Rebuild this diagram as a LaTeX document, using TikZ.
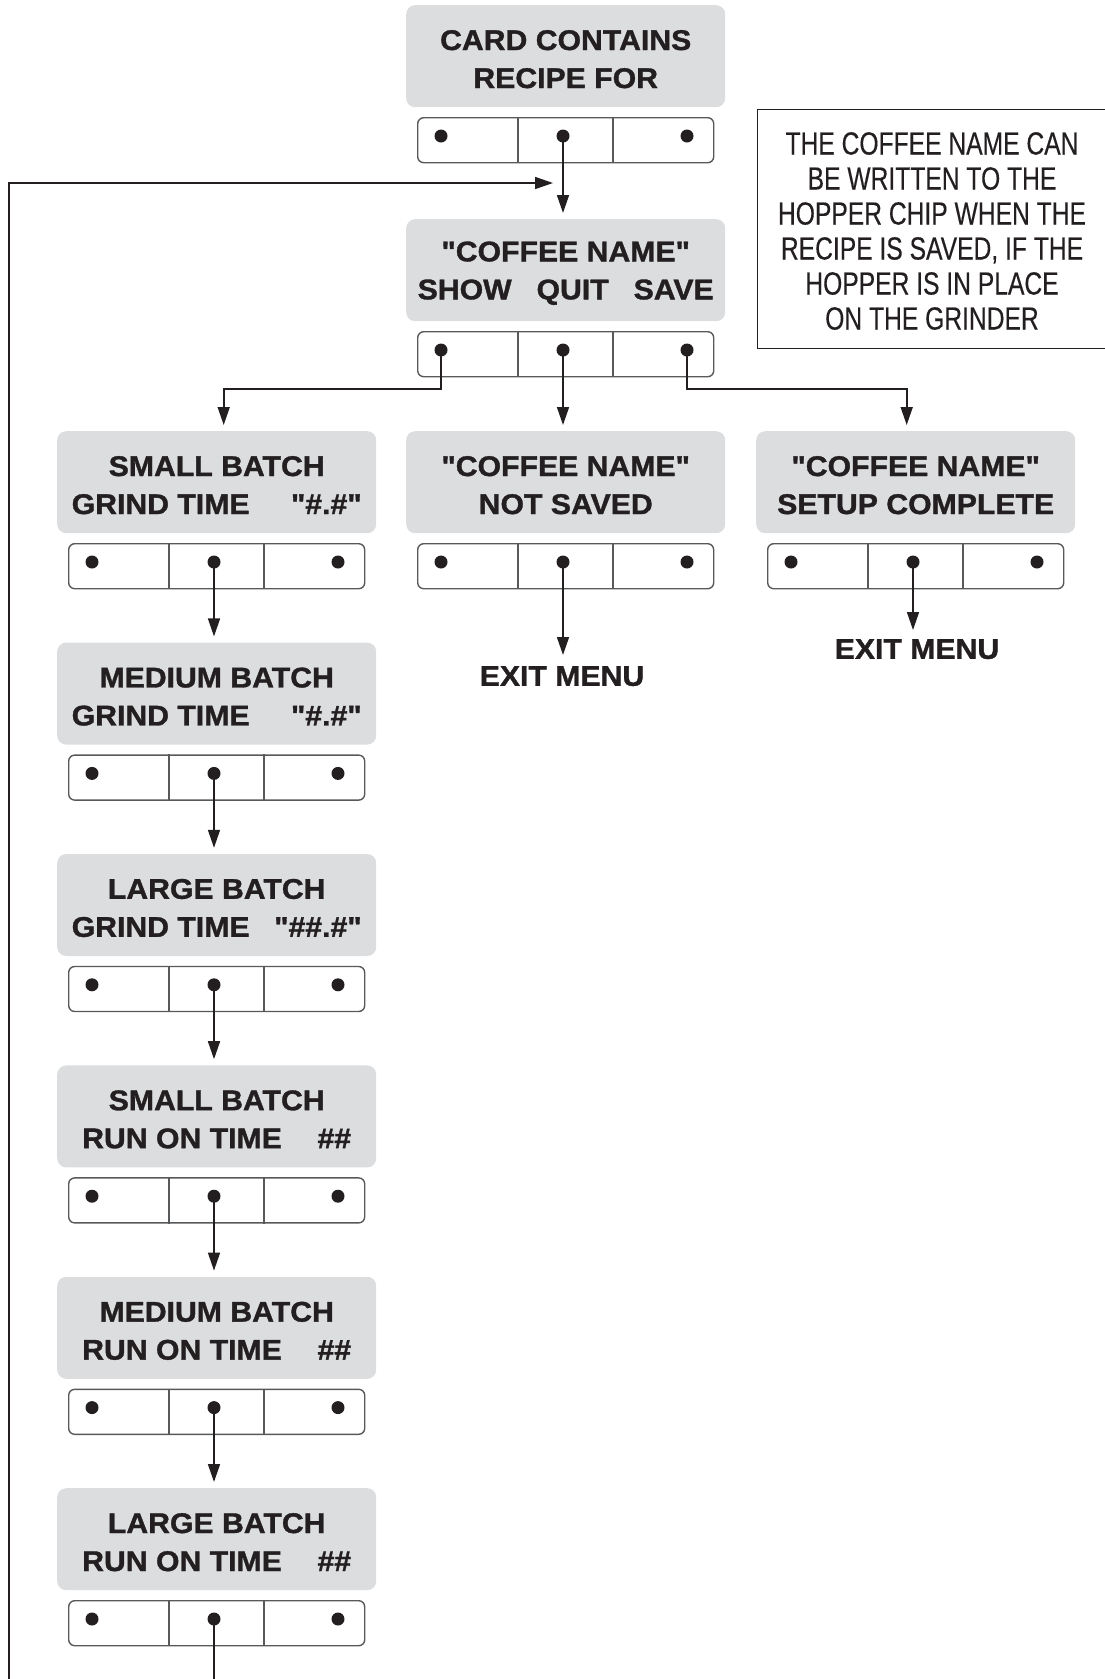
\documentclass[tikz,border=0pt]{standalone}
\usepackage{fontspec}
\usetikzlibrary{arrows.meta}
\newfontfamily\hb[FakeStretch=1.06,FakeBold=1.2]{Liberation Sans}
\newfontfamily\hcond[FakeStretch=0.77,FakeBold=0.3]{Liberation Sans}
\definecolor{ink}{RGB}{35,31,32}
\definecolor{boxgray}{RGB}{220,221,223}
\definecolor{barline}{RGB}{88,89,91}
\tikzset{
  graybox/.style={rectangle, rounded corners=9pt, fill=boxgray, draw=none,
    minimum width=319pt, minimum height=102pt, inner sep=0pt, anchor=north west},
  lbl/.style={font=\hb\bfseries\fontsize{28.5}{38}\selectfont, align=center, text=ink, inner sep=0pt},
  barbox/.style={draw=barline, line width=1.4pt, rounded corners=6pt, fill=white,
    minimum width=296pt, minimum height=45pt, inner sep=0pt, anchor=north west},
  divider/.style={draw=barline, line width=1.4pt},
  dot/.style={circle, fill=ink, minimum size=13pt, inner sep=0pt},
  conn/.style={draw=ink, line width=1.6pt},
  arr/.style={conn, -{Triangle[length=18pt,width=12pt]}, shorten >=6pt},
  notebox/.style={draw=ink, line width=1.3pt, minimum width=353pt, minimum height=239pt,
    inner sep=0pt, anchor=north west},
  notetxt/.style={font=\hcond\fontsize{32}{35}\selectfont, align=center, text=ink, inner sep=0pt}
}
\newcommand\keybar[3]{%
  \node[barbox] (#1) at (#2,#3) {};
  \draw[divider] ([xshift=101pt]#1.north west) -- ([xshift=101pt]#1.south west);
  \draw[divider] ([xshift=196pt]#1.north west) -- ([xshift=196pt]#1.south west);
  \node[dot] (#1l) at ([xshift=24pt,yshift=-19pt]#1.north west) {};
  \node[dot] (#1m) at ([xshift=146pt,yshift=-19pt]#1.north west) {};
  \node[dot] (#1r) at ([xshift=270pt,yshift=-19pt]#1.north west) {};
}
\begin{document}
\begin{tikzpicture}[x=1pt,y=-1pt]
\useasboundingbox (0,0) rectangle (1104,1679);

% top column
\node[graybox] (b0) at (406,5) {};
\node[lbl] (t0) at ([yshift=-3pt]b0.center) {CARD CONTAINS\\RECIPE FOR};
\keybar{k0}{417}{117}

\node[graybox] (b1) at (406,219) {};
\node[lbl] (t1) at ([yshift=-3pt]b1.center) {"COFFEE NAME"\\\makebox[296pt]{SHOW\hfill QUIT\hfill SAVE}};
\keybar{k1}{417}{331}

% middle and right of row 2
\node[graybox] (m2) at (406,431) {};
\node[lbl] (tm2) at ([yshift=-3pt]m2.center) {"COFFEE NAME"\\NOT SAVED};
\keybar{km}{417}{543}

\node[graybox] (r2) at (756,431) {};
\node[lbl] (tr2) at ([yshift=-3pt]r2.center) {"COFFEE NAME"\\SETUP COMPLETE};
\keybar{kr}{767}{543}

\node[lbl, anchor=north] (exit1) at (562,666) {EXIT MENU};
\node[lbl, anchor=north] (exit2) at (917,639) {EXIT MENU};

% left column
\node[graybox] (s1) at (57,431) {};
\node[lbl] (ts1) at ([yshift=-3pt]s1.center) {SMALL BATCH\\\makebox[290pt]{GRIND TIME\hfill "\#.\#"}};
\keybar{ks1}{68}{543}

\node[graybox] (s2) at (57,642.4) {};
\node[lbl] (ts2) at ([yshift=-3pt]s2.center) {MEDIUM BATCH\\\makebox[290pt]{GRIND TIME\hfill "\#.\#"}};
\keybar{ks2}{68}{754.4}

\node[graybox] (s3) at (57,853.8) {};
\node[lbl] (ts3) at ([yshift=-3pt]s3.center) {LARGE BATCH\\\makebox[290pt]{GRIND TIME\hfill "\#\#.\#"}};
\keybar{ks3}{68}{965.8}

\node[graybox] (s4) at (57,1065.2) {};
\node[lbl] (ts4) at ([yshift=-3pt]s4.center) {SMALL BATCH\\\makebox[269pt]{RUN ON TIME\hfill \#\#}};
\keybar{ks4}{68}{1177.2}

\node[graybox] (s5) at (57,1276.6) {};
\node[lbl] (ts5) at ([yshift=-3pt]s5.center) {MEDIUM BATCH\\\makebox[269pt]{RUN ON TIME\hfill \#\#}};
\keybar{ks5}{68}{1388.6}

\node[graybox] (s6) at (57,1488) {};
\node[lbl] (ts6) at ([yshift=-3pt]s6.center) {LARGE BATCH\\\makebox[269pt]{RUN ON TIME\hfill \#\#}};
\keybar{ks6}{68}{1600}

% note
\node[notebox] (note) at (757,109) {};
\node[notetxt] (notetext) at (932,231) {THE COFFEE NAME CAN\\BE WRITTEN TO THE\\HOPPER CHIP WHEN THE\\RECIPE IS SAVED, IF THE\\HOPPER IS IN PLACE\\ON THE GRINDER};

% coordinates for loop
\coordinate (loopin) at (9,1690);
\coordinate (join) at (563,183);
\coordinate (loopout) at (214,1690);

% connectors
\draw[arr] (k0m.center) -- (k0m |- b1.north);
\draw[arr, shorten >=10pt] (loopin) |- (join);
\draw[arr] (k1l.center) -- (k1l |- 0,389) -| ([xshift=7pt]s1.north);
\draw[arr] (k1m.center) -- (k1m |- m2.north);
\draw[arr] (k1r.center) -- (k1r |- 0,389) -| ([xshift=-9pt]r2.north);
\draw[arr, shorten >=11pt] (kmm.center) -- (kmm |- exit1.north);
\draw[arr, shorten >=9pt] (krm.center) -- (krm |- exit2.north);
\draw[arr] (ks1m.center) -- (ks1m |- s2.north);
\draw[arr] (ks2m.center) -- (ks2m |- s3.north);
\draw[arr] (ks3m.center) -- (ks3m |- s4.north);
\draw[arr] (ks4m.center) -- (ks4m |- s5.north);
\draw[arr] (ks5m.center) -- (ks5m |- s6.north);
\draw[conn] (ks6m.center) -- (ks6m |- loopout);
\end{tikzpicture}
\end{document}
